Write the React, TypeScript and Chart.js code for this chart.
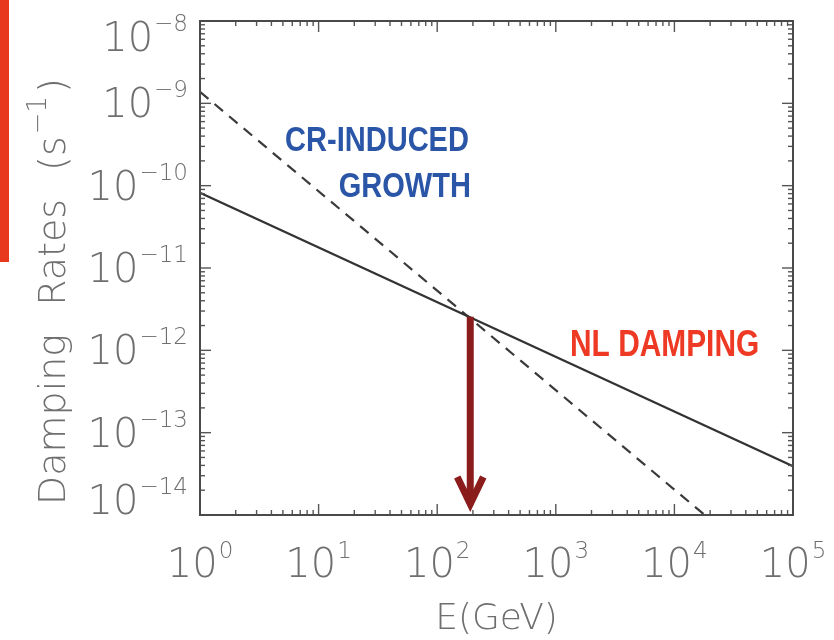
import React, { useEffect, useRef } from 'react';
import { Chart, registerables } from 'chart.js';

Chart.register(...registerables);

// ---- data ----
const nlEnergyGeV = [1, 1e5];
const nlDampingRate = [8.2e-11, 3.9e-14];
const crEnergyGeV = [1, 1.8e4];
const crGrowthRate = [1.38e-9, 1e-14];

const xMajorTicks = [1, 10, 100, 1000, 10000, 100000];
const xTickExponents = ['0', '1', '2', '3', '4', '5'];
const yMajorTicks = [1e-8, 1e-9, 1e-10, 1e-11, 1e-12, 1e-13, 1e-14];
const yTickExponents = ['−8', '−9', '−10', '−11', '−12', '−13', '−14'];
const minorMultipliers = [2, 3, 4, 5, 6, 7, 8, 9];

const crossingEnergyGeV = 190;
const crossingRate = 2.55e-12;

const xTitle = 'E(GeV)';
const yTitleWords = ['Damping', 'Rates', '(s'];
const yTitleSup = '−1';
const yTitleEnd = ')';
const growthLabel = ['CR-INDUCED', 'GROWTH'];
const dampingLabel = 'NL DAMPING';

const LIGHT = '"DejaVu Sans", sans-serif';
const TEXT_GREY = '#6f6f6f';

function minorValues(majors: number[]) {
  const sorted = [...majors].sort((a, b) => a - b);
  const out: number[] = [];
  for (let i = 0; i < sorted.length - 1; i++) {
    for (const m of minorMultipliers) out.push(sorted[i] * m);
  }
  return out;
}

const overlayPlugin = {
  id: 'overlay',
  afterDatasetsDraw(chart: any) {
    const { ctx, chartArea: a, scales } = chart;
    const xs = scales.x;
    const ys = scales.y;
    ctx.save();

    const line = (x1: number, y1: number, x2: number, y2: number) => {
      ctx.beginPath();
      ctx.moveTo(x1, y1);
      ctx.lineTo(x2, y2);
      ctx.stroke();
    };

    // ticks (inside, mirrored)
    ctx.strokeStyle = '#555';
    ctx.lineWidth = 1.4;
    const xTick = (v: number, len: number) => {
      const px = xs.getPixelForValue(v);
      line(px, a.bottom, px, a.bottom - len);
      line(px, a.top, px, a.top + len);
    };
    const yTick = (v: number, len: number) => {
      const py = ys.getPixelForValue(v);
      line(a.left, py, a.left + len, py);
      line(a.right, py, a.right - len, py);
    };
    xMajorTicks.forEach((v) => xTick(v, 11));
    minorValues(xMajorTicks).forEach((v) => xTick(v, 5));
    yMajorTicks.forEach((v) => yTick(v, 11));
    minorValues(yMajorTicks).forEach((v) => yTick(v, 5));

    // box
    ctx.strokeStyle = '#4a4a4a';
    ctx.lineWidth = 2;
    ctx.strokeRect(a.left, a.top, a.right - a.left, a.bottom - a.top);

    // arrow
    const ax = xs.getPixelForValue(crossingEnergyGeV);
    const ay0 = ys.getPixelForValue(crossingRate);
    const tipY = a.bottom - 5;
    ctx.strokeStyle = '#8b1c1c';
    ctx.lineWidth = 7;
    ctx.lineCap = 'butt';
    line(ax, ay0, ax, tipY - 8);
    ctx.lineJoin = 'miter';
    ctx.miterLimit = 4;
    ctx.beginPath();
    ctx.moveTo(ax - 13, tipY - 33);
    ctx.lineTo(ax, tipY - 6);
    ctx.lineTo(ax + 13, tipY - 33);
    ctx.stroke();

    // tick labels
    ctx.fillStyle = TEXT_GREY;
    ctx.textBaseline = 'alphabetic';
    const baseFont = `200 40px ${LIGHT}`;
    const supFont = `200 23px ${LIGHT}`;
    // y
    yMajorTicks.forEach((v, i) => {
      let py = ys.getPixelForValue(v);
      py = Math.min(Math.max(py, a.top + 16), a.bottom - 15);
      const rightX = 188;
      ctx.font = supFont;
      const sw = ctx.measureText(yTickExponents[i]).width;
      ctx.textAlign = 'right';
      ctx.fillText(yTickExponents[i], rightX, py - 6);
      ctx.font = baseFont;
      ctx.fillText('10', rightX - sw - 1, py + 14);
    });
    // x
    xMajorTicks.forEach((v, i) => {
      const px = xs.getPixelForValue(v);
      ctx.font = baseFont;
      const bw = ctx.measureText('10').width;
      ctx.font = supFont;
      const sw = ctx.measureText(xTickExponents[i]).width;
      const start = px - (bw + sw + 1) / 2;
      ctx.textAlign = 'left';
      ctx.font = baseFont;
      ctx.fillText('10', start, a.bottom + 62);
      ctx.font = supFont;
      ctx.fillText(xTickExponents[i], start + bw + 1, a.bottom + 43);
    });

    // x title
    ctx.font = `200 36px ${LIGHT}`;
    ctx.textAlign = 'center';
    ctx.fillText(xTitle, (a.left + a.right) / 2, a.bottom + 114);

    // y title (rotated)
    ctx.save();
    ctx.translate(65, 505);
    ctx.rotate(-Math.PI / 2);
    ctx.textAlign = 'left';
    let cx = 0;
    ctx.font = `200 38px ${LIGHT}`;
    yTitleWords.forEach((w, i) => {
      ctx.fillText(w, cx, 0);
      cx += ctx.measureText(w).width + (i < yTitleWords.length - 1 ? 28 : 2);
    });
    ctx.font = `200 26px ${LIGHT}`;
    ctx.fillText(yTitleSup, cx, -19);
    cx += ctx.measureText(yTitleSup).width + 3;
    ctx.font = `200 38px ${LIGHT}`;
    ctx.fillText(yTitleEnd, cx, 0);
    ctx.restore();

    // annotations (condensed bold)
    const condensed = (text: string, x: number, y: number, size: number, color: string, align: 'left' | 'right') => {
      ctx.save();
      ctx.font = `bold ${size}px "Liberation Sans", Arial, sans-serif`;
      ctx.fillStyle = color;
      const w = ctx.measureText(text).width * 0.83;
      const left = align === 'left' ? x : x - w;
      ctx.translate(left, y);
      ctx.scale(0.83, 1);
      ctx.textAlign = 'left';
      ctx.fillText(text, 0, 0);
      ctx.restore();
    };
    condensed(growthLabel[0], 285, 151, 35, '#2b56a8', 'left');
    condensed(growthLabel[1], 471, 197, 35, '#2b56a8', 'right');
    condensed(dampingLabel, 570, 356, 36, '#ee3a24', 'left');

    // red side bar
    ctx.fillStyle = '#e8391f';
    ctx.fillRect(0, 0, 9, 262);

    ctx.restore();
  },
};

export default function App() {
  const ref = useRef<HTMLCanvasElement | null>(null);
  useEffect(() => {
    if (!ref.current) return;
    const chart = new Chart(ref.current, {
      type: 'line',
      data: {
        datasets: [
          {
            label: 'NL damping',
            data: nlEnergyGeV.map((e, i) => ({ x: e, y: nlDampingRate[i] })),
            borderColor: '#333',
            borderWidth: 2.2,
            pointRadius: 0,
            fill: false,
          },
          {
            label: 'CR-induced growth',
            data: crEnergyGeV.map((e, i) => ({ x: e, y: crGrowthRate[i] })),
            borderColor: '#3a3a3a',
            borderWidth: 2.2,
            borderDash: [11, 8],
            pointRadius: 0,
            fill: false,
          },
        ],
      },
      options: {
        responsive: false,
        animation: false,
        events: [],
        layout: { padding: { left: 192, right: 41, top: 21, bottom: 117 } },
        plugins: { legend: { display: false }, tooltip: { enabled: false }, title: { display: false } },
        scales: {
          x: {
            type: 'logarithmic',
            min: 1,
            max: 1e5,
            ticks: { display: false },
            grid: { display: false },
            border: { display: false },
          },
          y: {
            type: 'logarithmic',
            min: 1e-14,
            max: 1e-8,
            ticks: { display: false },
            grid: { display: false },
            border: { display: false },
          },
        },
      },
      plugins: [overlayPlugin],
    });
    return () => chart.destroy();
  }, []);
  return (
    <div style={{ position: 'fixed', left: 0, top: 0, width: 834, height: 640, background: '#fff' }}>
      <canvas ref={ref} width={834} height={640} style={{ display: 'block' }} />
    </div>
  );
}
